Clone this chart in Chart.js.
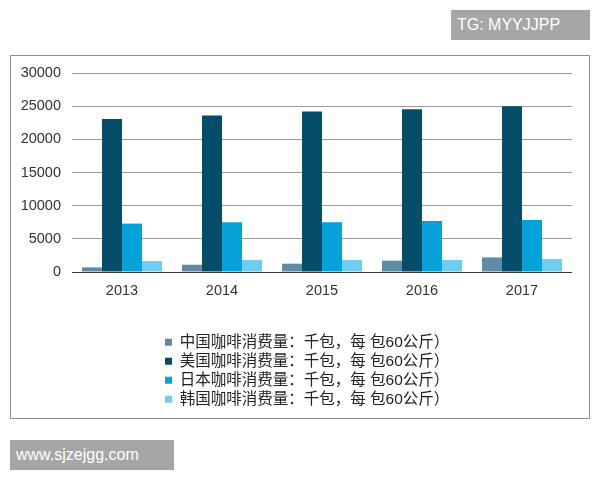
<!DOCTYPE html>
<html>
<head>
<meta charset="utf-8">
<script src="https://cdn.jsdelivr.net/npm/chart.js@4/dist/chart.umd.min.js"></script>
<style>
  html, body { margin: 0; padding: 0; background: #fff; }
  #wrap { position: relative; width: 600px; height: 480px; }
  #frame { position: absolute; left: 10px; top: 55px; width: 578px; height: 362px; border: 1px solid #8f8f8f; }
  canvas { position: absolute; left: 0; top: 0; }
  .tag { position: absolute; background: #a6a6a6; color: #fff; font-family: "Liberation Sans", Arial, sans-serif; font-size: 16px; line-height: 30px; padding-left: 6px; box-sizing: border-box; }
</style>
</head>
<body>
<div id="wrap">
  <div id="frame"></div>
  <canvas id="barChart" width="600" height="480"></canvas>
  <div class="tag" style="left:451px;top:10px;width:139px;height:30px;">TG: MYYJJPP</div>
  <div class="tag" style="left:10px;top:440px;width:164px;height:30px;">www.sjzejgg.com</div>
</div>
<script>
// years on the x axis
const years = ["2013", "2014", "2015", "2016", "2017"];
// series names
const seriesNames = [
  "中国咖啡消费量：千包，每 包60公斤）",
  "美国咖啡消费量：千包，每 包60公斤）",
  "日本咖啡消费量：千包，每 包60公斤）",
  "韩国咖啡消费量：千包，每 包60公斤）"
];
// values
const chinaData = [700, 1100, 1250, 1700, 2200];
const usaData = [23050, 23600, 24200, 24550, 25000];
const japanData = [7300, 7500, 7500, 7700, 7850];
const koreaData = [1650, 1800, 1800, 1800, 1950];
const seriesColors = ["#5e8ca6", "#064d6a", "#08a2da", "#6fcdf1"];

const fontFamily = '"Liberation Sans", Arial, "Noto Sans CJK SC", sans-serif';

// nudge the legend to the spot it has in the original
const legendPlacer = {
  id: "legendPlacer",
  afterLayout(chart) {
    const lg = chart.legend;
    const h = lg.bottom - lg.top;
    lg.left = 161.5;
    lg.right = 600;
    lg.top = 331;
    lg.bottom = lg.top + h;
  }
};

const ctx = document.getElementById("barChart").getContext("2d");
let allData = [chinaData, usaData, japanData, koreaData];
let datasets = [];
for (let i = 0; i < allData.length; i++) {
  datasets.push({
    label: seriesNames[i],
    data: allData[i],
    backgroundColor: seriesColors[i],
    borderWidth: 0,
    categoryPercentage: 0.8,
    barPercentage: 1.0
  });
}

var chart = new Chart(ctx, {
  type: "bar",
  data: { labels: years, datasets: datasets },
  options: {
    responsive: false,
    animation: false,
    layout: { padding: { top: 73, left: 10, right: 28, bottom: 92 } },
    plugins: {
      tooltip: { enabled: false },
      legend: {
        position: "bottom",
        align: "start",
        labels: {
          boxWidth: 7,
          boxHeight: 7,
          padding: 3.5,
          color: "#222",
          font: { family: fontFamily, size: 15.5 }
        }
      }
    },
    scales: {
      x: {
        grid: { display: false, drawTicks: false },
        border: { display: false },
        ticks: { color: "#333", padding: 10, font: { family: fontFamily, size: 14.5 } },
        afterFit(axis) { axis.height = 30; }
      },
      y: {
        min: 0,
        max: 30000,
        border: { display: false },
        grid: {
          drawTicks: false,
          color: (c) => (c.tick && c.tick.value === 0 ? "#3a3a3a" : "#9a9a9a")
        },
        ticks: {
          stepSize: 5000,
          color: "#333",
          padding: 11,
          font: { family: fontFamily, size: 14.5 },
          callback: (v) => String(v)
        },
        afterFit(axis) { axis.width = 62; }
      }
    }
  },
  plugins: [legendPlacer]
});
</script>
</body>
</html>
